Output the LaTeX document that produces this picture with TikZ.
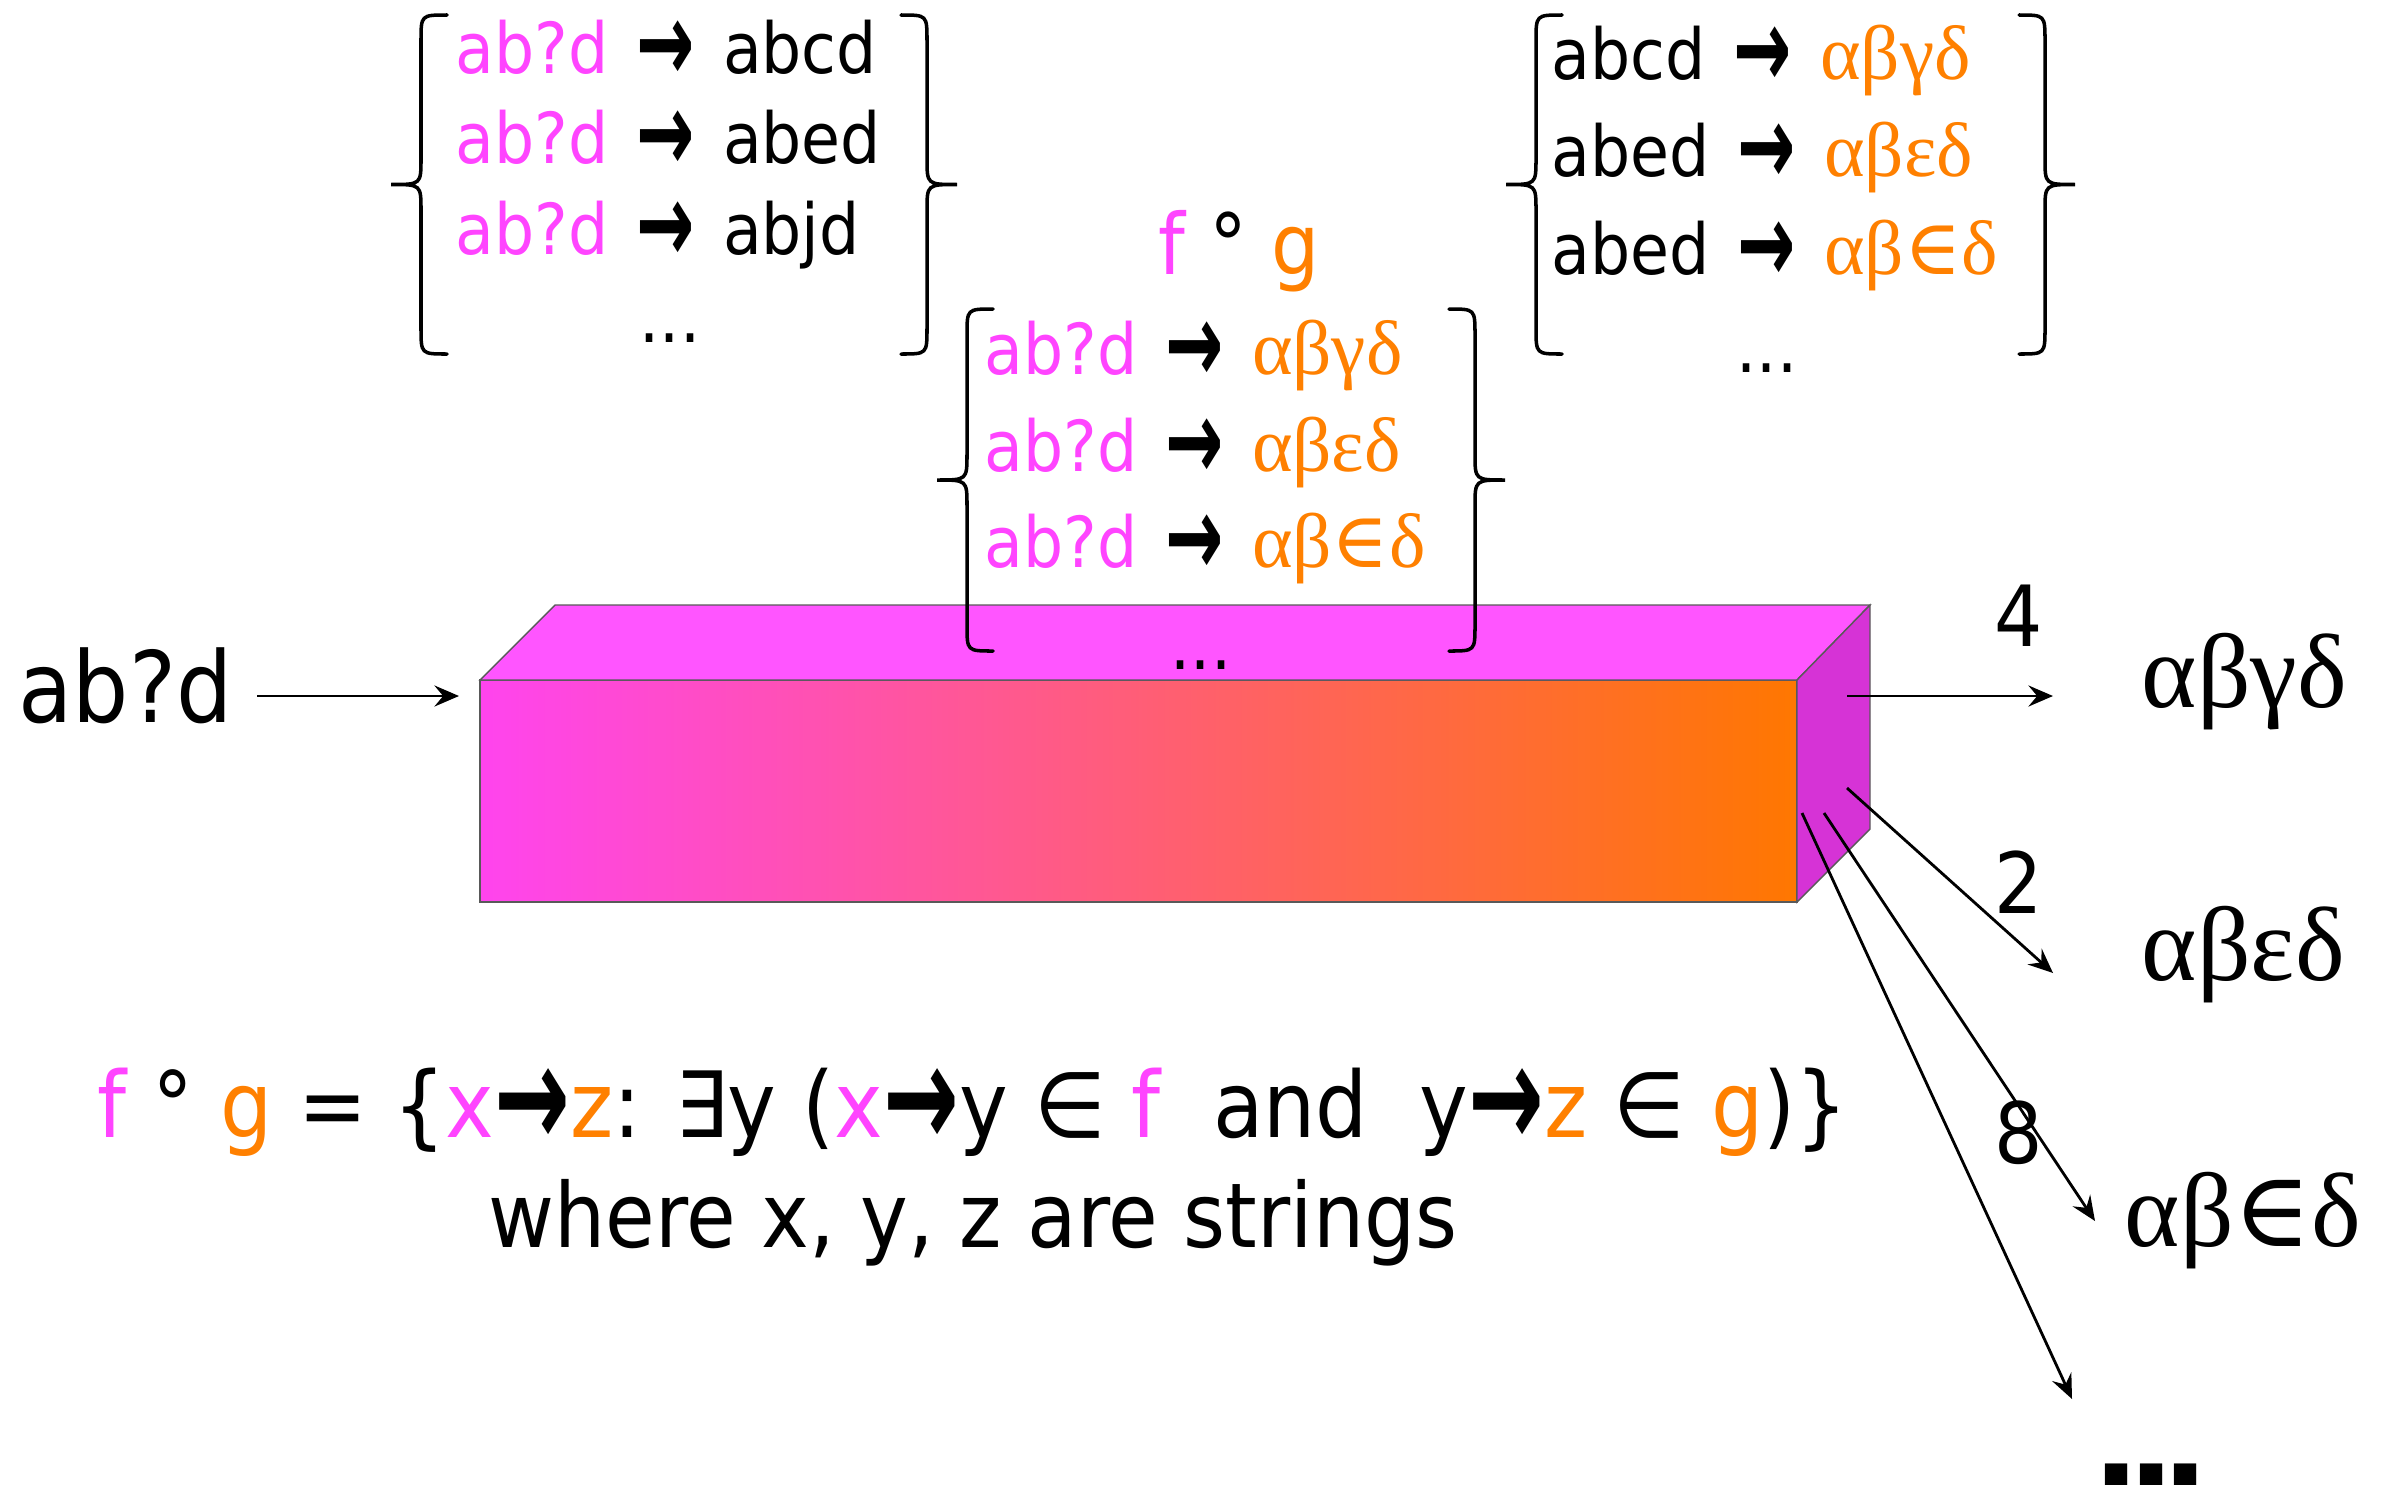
\documentclass[tikz,border=0pt]{standalone}
\usepackage{fontspec}
\usepackage{graphicx}
\setmainfont{DejaVu Sans Condensed}
\newfontfamily\grk{Liberation Serif}
\newfontfamily\symf{DejaVu Serif}
\usepackage{tikz}
\usetikzlibrary{arrows.meta,positioning}
\definecolor{fpink}{HTML}{FF44FF}
\definecolor{gorange}{HTML}{FF8000}
\definecolor{boxtop}{HTML}{FF55FF}
\definecolor{boxside}{HTML}{D633D6}
\definecolor{boxleft}{HTML}{FF44EE}
\definecolor{boxright}{HTML}{FF7700}
\newcommand{\fpk}[1]{\textcolor{fpink}{#1}}
\newcommand{\gor}[1]{\textcolor{gorange}{#1}}
\newcommand{\gk}[1]{{\grk\fontsize{22}{24}\selectfont\gor{#1}}}
\newcommand{\bigarr}{\smash{\raisebox{-0.12em}{\scalebox{1.1}[1.6]{\bfseries →}}}}
\newcommand{\yields}{\hspace{0.4em}\bigarr\hspace{0.4em}}
% vertical x, top y, bottom y, side (1 opening, -1 closing)
\newcommand{\brc}[4]{%
  \draw[brcline] ({#1+(#4)*26},#2) .. controls (#1,#2) .. (#1,{#2+26})
    -- (#1,{(#2+#3)/2-26}) .. controls (#1,{(#2+#3)/2}) .. ({#1-(#4)*30},{(#2+#3)/2})
    .. controls (#1,{(#2+#3)/2}) .. (#1,{(#2+#3)/2+26})
    -- (#1,{#3-26}) .. controls (#1,#3) .. ({#1+(#4)*26},#3);}
\tikzset{
  rowtxt/.style={anchor=base west, inner sep=0pt, font=\fontsize{20}{24}\selectfont},
  dots/.style={anchor=base, inner sep=0pt, font=\fontsize{20}{24}\selectfont},
  outlbl/.style={anchor=base west, inner sep=0pt, font=\grk\fontsize{30}{36}\selectfont},
  cnt/.style={inner sep=0pt, font=\fontsize{24}{28}\selectfont},
  frm/.style={anchor=base, inner sep=0pt, font=\fontsize{25.5}{30}\selectfont},
  flow/.style={-{Stealth[length=7pt,width=6pt,inset=2.5pt]}, line width=0.8pt},
  brcline/.style={line width=1pt, line cap=round},
  edge/.style={draw=black!65, line width=0.4pt},
}
\begin{document}
\begin{tikzpicture}[x=0.01cm,y=-0.01cm]
\useasboundingbox (0,0) rectangle (2384,1484);

% the transducer box
\shadedraw[edge, left color=boxleft, right color=boxright] (480,680) rectangle (1797,902);
\filldraw[edge, fill=boxtop] (480,680) -- (555,605) -- (1870,605) -- (1797,680) -- cycle;
\filldraw[edge, fill=boxside] (1797,680) -- (1870,605) -- (1870,829) -- (1797,902) -- cycle;

% f
\brc{421}{15}{354}{1}
\brc{927}{15}{354}{-1}
\node[rowtxt] (f1) at (455,73) {\fpk{ab?d}\yields abcd};
\node[rowtxt] (f2) at (455,163) {\fpk{ab?d}\yields abed};
\node[rowtxt] (f3) at (455,254) {\fpk{ab?d}\yields abjd};
\node[dots] (f4) at (670,342) {...};

% g
\brc{1536}{15}{354}{1}
\brc{2045}{15}{354}{-1}
\node[rowtxt] (g1) at (1551,79) {abcd\yields\gk{αβγδ}};
\node[rowtxt] (g2) at (1551,176) {abed\yields\gk{αβεδ}};
\node[rowtxt] (g3) at (1551,274) {abed\yields\gk{αβ{\symf ∈}δ}};
\node[dots] (g4) at (1767,372) {...};

% f o g
\node[anchor=base, inner sep=0pt, font=\fontsize{24}{28}\selectfont] (fog) at (1239,274) {\fpk{f} ° \gor{g}};
\brc{967}{309}{651}{1}
\brc{1475}{309}{651}{-1}
\node[rowtxt] (c1) at (984,374) {\fpk{ab?d}\yields\gk{αβγδ}};
\node[rowtxt] (c2) at (984,471) {\fpk{ab?d}\yields\gk{αβεδ}};
\node[rowtxt] (c3) at (984,567) {\fpk{ab?d}\yields\gk{αβ{\symf ∈}δ}};
\node[dots] (c4) at (1201,669) {...};

% input
\node[anchor=base west, inner sep=0pt, font=\fontsize{28}{32}\selectfont] (inp) at (18,722) {ab?d};
\coordinate (boxin) at (459,696);
\draw[flow] (255,696 -| inp.east) ++(24,0) -- (boxin);

% outputs
\coordinate (o1) at (1847,696);
\coordinate (o2) at (1847,788);
\coordinate (o3) at (1824,813);
\coordinate (o4) at (1802,813);
\coordinate (e1) at (2053,696);
\coordinate (e2) at (2053,973);
\coordinate (e3) at (2095,1221);
\coordinate (e4) at (2072,1399);
\draw[flow] (o1) -- (e1);
\draw[flow] (o2) -- (e2);
\draw[flow] (o3) -- (e3);
\draw[flow] (o4) -- (e4);
\node[cnt] (w1) at (2019,616) {4};
\node[cnt] (w2) at (2019,882) {2};
\node[cnt] (w3) at (2019,1133) {8};
\node[outlbl] (out1) at (2141,707) {αβγδ};
\node[outlbl] (out2) at (2141,980) {αβεδ};
\node[outlbl] (out3) at (2124,1246) {αβ{\symf ∈}δ};
\node[anchor=base, inner sep=0pt, font=\bfseries\fontsize{40}{40}\selectfont] (more) at (2151,1490) {.\kern-4pt.\kern-4pt.};

% definition
\node[frm, font=\fontsize{26}{30}\selectfont] (def1) at (973,1137) {\fpk{f} ° \gor{g} = \{\fpk{x}\bigarr\gor{z}: ∃y (\fpk{x}\bigarr y ∈ \fpk{f}\ \ and\ \ y\bigarr\gor{z} ∈ \gor{g})\}};
\node[frm] (def2) at (973,1247) {where x, y, z are strings};
\end{tikzpicture}
\end{document}
